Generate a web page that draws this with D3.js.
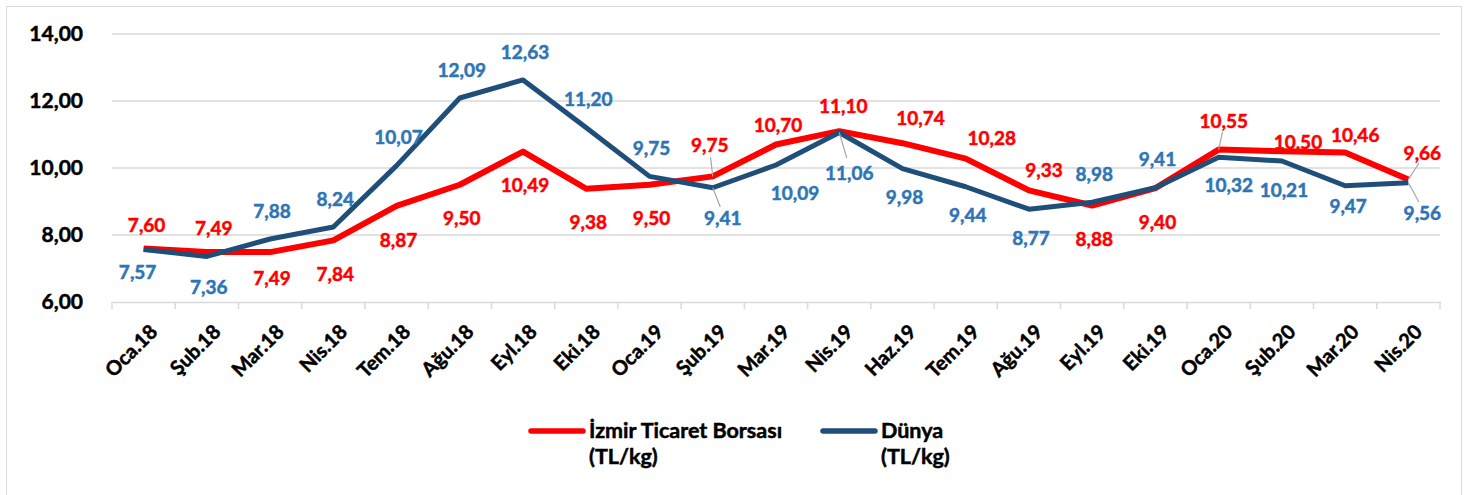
<!DOCTYPE html>
<html>
<head>
<meta charset="utf-8">
<script src="https://cdn.jsdelivr.net/npm/d3@7"></script>
<style>
  body { margin: 0; background: #fff; }
  text { font-family: Lato, "Open Sans", sans-serif; font-weight: bold; paint-order: stroke; stroke-width: 0.5px; }
</style>
</head>
<body>
<div id="chart"></div>
<script>
// Data
const months = ["Oca.18", "Şub.18", "Mar.18", "Nis.18", "Tem.18", "Ağu.18", "Eyl.18", "Eki.18",
  "Oca.19", "Şub.19", "Mar.19", "Nis.19", "Haz.19", "Tem.19", "Ağu.19", "Eyl.19", "Eki.19",
  "Oca.20", "Şub.20", "Mar.20", "Nis.20"];
const izmir = [7.60, 7.49, 7.49, 7.84, 8.87, 9.50, 10.49, 9.38, 9.50, 9.75, 10.70, 11.10, 10.74,
  10.28, 9.33, 8.88, 9.40, 10.55, 10.50, 10.46, 9.66];
const dunya = [7.57, 7.36, 7.88, 8.24, 10.07, 12.09, 12.63, 11.20, 9.75, 9.41, 10.09, 11.06, 9.98,
  9.44, 8.77, 8.98, 9.41, 10.32, 10.21, 9.47, 9.56];
const yTicks = [6, 8, 10, 12, 14];

const seriesNames = [["İzmir Ticaret Borsası", "(TL/kg)"], ["Dünya", "(TL/kg)"]];

const W = 1473, H = 495;
const margin = { top: 34, right: 33, bottom: 193, left: 112 };
const width = W - margin.left - margin.right;
const height = H - margin.top - margin.bottom;

const svg = d3.select("#chart").append("svg")
  .attr("width", W)
  .attr("height", H);

// outer frame
svg.append("rect")
  .attr("x", 6.5).attr("y", 6.5)
  .attr("width", 1455).attr("height", 500)
  .attr("fill", "#fff")
  .attr("stroke", "#d9d9d9");

const g = svg.append("g").attr("transform", `translate(${margin.left},${margin.top})`);

const x = d3.scaleBand().domain(months).range([0, width]);
const y = d3.scaleLinear().domain([6, 14]).range([height, 0]);
const cx = d => x(d) + x.bandwidth() / 2;

// gridlines
g.selectAll(".grid").data(yTicks.slice(1)).enter().append("line")
  .attr("x1", 0).attr("x2", width)
  .attr("y1", d => y(d)).attr("y2", d => y(d))
  .attr("stroke", "#d9d9d9")
  .attr("stroke-width", 1.5);

// y axis labels
const yAxis = g.append("g")
  .call(d3.axisLeft(y).tickValues(yTicks).tickSize(0).tickPadding(29)
    .tickFormat(d => d3.format(".2f")(d).replace(".", ",")));
yAxis.select(".domain").remove();
yAxis.selectAll("text").attr("font-size", 21).attr("fill", "#000").attr("stroke", "#000");

// x axis
const xAxis = g.append("g")
  .attr("transform", `translate(0,${height})`)
  .call(d3.axisBottom(x).tickSize(0));
xAxis.select(".domain").attr("stroke", "#d9d9d9").attr("stroke-width", 1.5);
xAxis.selectAll("text")
  .attr("font-size", 20)
  .attr("fill", "#000")
  .attr("stroke", "#000")
  .attr("text-anchor", "end")
  .attr("transform", "translate(8,24) rotate(-45)")
  .attr("dy", "0.35em");

// tick marks at category boundaries
const bounds = months.map(m => x(m)).concat([width]);
g.selectAll(".tickmark").data(bounds).enter().append("line")
  .attr("x1", d => d).attr("x2", d => d)
  .attr("y1", height).attr("y2", height + 7)
  .attr("stroke", "#d9d9d9")
  .attr("stroke-width", 1.5);

// lines
const line = d3.line().x((d, i) => cx(months[i])).y(d => y(d));
g.append("path").datum(izmir)
  .attr("d", line).attr("fill", "none")
  .attr("stroke", "#ff0000").attr("stroke-width", 6).attr("stroke-linejoin", "round");
g.append("path").datum(dunya)
  .attr("d", line).attr("fill", "none")
  .attr("stroke", "#1f4e79").attr("stroke-width", 5).attr("stroke-linejoin", "round");

// data labels: higher series above the point, lower below
const fmt = v => d3.format(".2f")(v).replace(".", ",");
// hand-moved labels, as in the original: [dx, dy, leader line]
const moved = {
  "0-0": [3, -23], "1-0": [-6, 23], "0-1": [7, -24], "1-1": [2, 31], "0-2": [2, 26],
  "0-9": [-3, -31, true], "1-9": [10, 31, true], "0-10": [2, -19], "1-10": [19, 28],
  "0-11": [4, -25], "1-11": [10, 41, true], "0-12": [18, -25], "0-13": [26, -20],
  "0-14": [15, -20], "0-17": [5, -28, true], "1-17": [10, 28], "0-18": [16, -9],
  "0-19": [10, -17], "1-19": [3, 21], "0-20": [14, -26, true], "1-20": [14, 31, true]
};
[izmir, dunya].forEach((vals, s) => {
  const other = s === 0 ? dunya : izmir;
  const color = s === 0 ? "#ff0000" : "#2e75b6";
  vals.forEach((v, i) => {
    const above = v > other[i];
    const n = moved[s + "-" + i] || [2, above ? -28 : (s === 0 ? 34 : 29), false];
    const px = cx(months[i]), py = y(v);
    const lx = px + n[0], ly = py + n[1];
    if (n[2]) {
      g.append("line")
        .attr("x1", px).attr("y1", py)
        .attr("x2", px + (lx - px) * 0.75).attr("y2", py + (ly - py) * 0.62)
        .attr("stroke", "#a6a6a6").attr("stroke-width", 1.2);
    }
    g.append("text")
      .attr("x", lx).attr("y", ly)
      .attr("text-anchor", "middle")
      .attr("dy", "0.35em")
      .attr("font-size", 19)
      .attr("fill", color)
      .attr("stroke", color)
      .text(fmt(v));
  });
});

// legend
const legend = svg.append("g");
const legendX = [531, 823];
const legendColors = ["#ff0000", "#1f4e79"];
seriesNames.forEach((lines, s) => {
  legend.append("line")
    .attr("x1", legendX[s]).attr("x2", legendX[s] + 52)
    .attr("y1", 431).attr("y2", 431)
    .attr("stroke", legendColors[s]).attr("stroke-width", 5.5)
    .attr("stroke-linecap", "round");
  lines.forEach((t, k) => {
    legend.append("text")
      .attr("x", legendX[s] + 58).attr("y", 438 + k * 26)
      .attr("font-size", 21.5)
      .attr("fill", "#000")
      .attr("stroke", "#000")
      .text(t);
  });
});
</script>
</body>
</html>
